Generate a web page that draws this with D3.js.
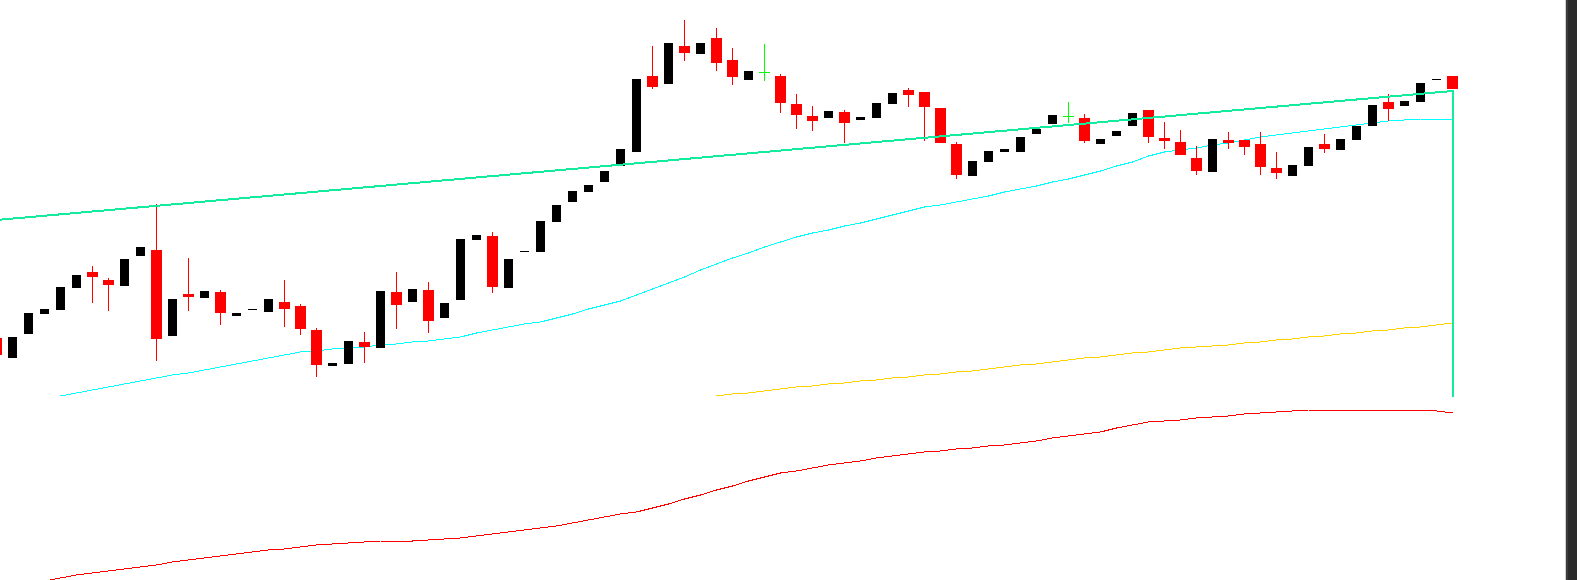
<!DOCTYPE html>
<html>
<head>
<meta charset="utf-8">
<script src="https://cdn.jsdelivr.net/npm/d3@7"></script>
<style>
  html, body { margin: 0; padding: 0; background: #fff; overflow: hidden; }
  #chart { width: 1577px; height: 580px; }
</style>
</head>
<body>
<div id="chart"></div>
<script>
// candle index (first one is cut by the left edge)
var firstIdx = -1;

// OHLC
var opens  = [12.62,12.42,12.66,12.86,12.90,13.12,13.28,13.20,13.14,13.44,13.50,12.64,13.06,13.02,13.08,12.84,12.90,12.88,12.98,12.94,
              12.70,12.34,12.36,12.58,12.52,13.08,12.98,13.10,12.82,13.00,13.60,13.64,13.12,13.48,13.48,13.78,13.98,14.08,14.18,14.34,
              14.48,15.24,15.16,15.54,15.46,15.62,15.40,15.20,15.28,15.24,14.96,14.84,14.82,14.88,14.80,14.82,14.96,15.10,15.08,14.92,
              14.56,14.24,14.38,14.48,14.48,14.66,14.76,14.84,14.82,14.56,14.64,14.74,14.90,14.62,14.58,14.42,14.28,14.60,14.60,14.56,
              14.32,14.24,14.34,14.56,14.50,14.60,14.74,14.98,14.94,14.98,15.20,15.24];
var highs  = [12.62,12.63,12.87,12.91,13.13,13.25,13.34,13.22,13.41,13.53,13.96,13.01,13.42,13.09,13.10,12.87,12.91,13.01,13.20,12.96,
              12.72,12.37,12.59,12.68,13.09,13.28,13.11,13.18,12.97,13.61,13.65,13.68,13.41,13.49,13.79,13.95,14.09,14.15,14.29,14.51,
              15.21,15.54,15.57,15.80,15.57,15.72,15.52,15.29,15.56,15.26,15.06,14.94,14.89,14.90,14.83,14.97,15.07,15.12,15.08,14.92,
              14.58,14.39,14.49,14.51,14.63,14.71,14.85,14.98,14.86,14.61,14.69,14.87,14.90,14.78,14.70,14.54,14.61,14.68,14.60,14.68,
              14.48,14.35,14.53,14.66,14.61,14.74,14.95,15.06,14.99,15.17,15.21,15.24];
var lows   = [12.45,12.42,12.66,12.86,12.90,13.12,12.97,12.89,13.14,13.44,12.39,12.64,12.89,13.02,12.75,12.84,12.90,12.88,12.73,12.65,
              12.23,12.34,12.36,12.37,12.52,12.71,12.98,12.67,12.82,13.00,13.60,13.07,13.12,13.48,13.48,13.78,13.98,14.08,14.18,14.34,
              14.48,15.11,15.16,15.39,15.46,15.29,15.15,15.20,15.19,14.87,14.71,14.69,14.82,14.57,14.80,14.82,14.96,14.93,14.59,14.57,
              14.21,14.24,14.38,14.48,14.48,14.66,14.76,14.77,14.57,14.56,14.64,14.74,14.57,14.51,14.45,14.25,14.28,14.51,14.45,14.25,
              14.21,14.24,14.34,14.47,14.50,14.60,14.74,14.79,14.94,14.98,15.20,15.11];
var closes = [12.45,12.63,12.87,12.91,13.13,13.25,13.23,13.15,13.41,13.53,12.61,13.01,13.03,13.09,12.87,12.87,12.91,13.01,12.91,12.71,
              12.35,12.37,12.59,12.53,13.09,12.95,13.11,12.79,12.97,13.61,13.65,13.13,13.41,13.49,13.79,13.95,14.09,14.15,14.29,14.51,
              15.21,15.13,15.57,15.47,15.57,15.37,15.23,15.29,15.28,14.97,14.85,14.79,14.89,14.77,14.83,14.97,15.07,15.05,14.93,14.57,
              14.25,14.39,14.49,14.51,14.63,14.71,14.85,14.84,14.59,14.61,14.69,14.87,14.63,14.59,14.45,14.29,14.61,14.57,14.53,14.33,
              14.27,14.35,14.53,14.51,14.61,14.74,14.95,14.91,14.99,15.17,15.21,15.11];

// moving averages, each with the index it starts at
var maCyanStart = 3;
var maCyan = [12.04,12.07,12.10,12.13,12.16,12.19,12.22,12.25,12.27,12.30,12.33,12.36,12.39,12.42,12.45,12.48,12.49,12.51,12.52,12.53,
              12.55,12.56,12.58,12.59,12.61,12.63,12.67,12.70,12.73,12.76,12.78,12.82,12.86,12.91,12.95,12.99,13.05,13.11,13.17,13.23,
              13.30,13.36,13.42,13.47,13.53,13.58,13.63,13.67,13.70,13.74,13.77,13.81,13.85,13.89,13.93,13.95,13.98,14.01,14.04,14.08,
              14.11,14.14,14.18,14.21,14.25,14.29,14.34,14.38,14.44,14.48,14.50,14.52,14.55,14.57,14.60,14.63,14.65,14.67,14.69,14.71,
              14.73,14.75,14.77,14.79,14.80,14.81,14.81,14.81];
var maYellowStart = 44;
var maYellow = [12.04,12.06,12.07,12.09,12.11,12.13,12.14,12.16,12.17,12.19,12.20,12.22,12.23,12.25,12.26,12.28,12.29,12.31,12.33,12.35,
                12.36,12.38,12.40,12.42,12.43,12.45,12.47,12.48,12.50,12.52,12.53,12.54,12.55,12.57,12.58,12.60,12.61,12.63,12.64,12.66,
                12.67,12.69,12.70,12.72,12.73,12.75,12.77];
var maRedStart = 2;
var maRed = [10.19,10.22,10.25,10.27,10.29,10.31,10.33,10.35,10.38,10.40,10.42,10.44,10.46,10.48,10.50,10.51,10.53,10.55,10.56,10.57,
             10.58,10.59,10.59,10.59,10.60,10.61,10.62,10.64,10.66,10.68,10.70,10.72,10.74,10.77,10.80,10.83,10.86,10.88,10.92,10.96,
             11.01,11.05,11.10,11.14,11.19,11.23,11.27,11.29,11.32,11.35,11.37,11.39,11.42,11.44,11.46,11.48,11.49,11.51,11.52,11.54,
             11.55,11.57,11.59,11.62,11.64,11.66,11.68,11.72,11.75,11.78,11.79,11.80,11.82,11.83,11.84,11.86,11.87,11.88,11.89,11.90,
             11.90,11.90,11.90,11.90,11.90,11.90,11.90,11.89,11.87];

// trend line: index/price pairs, then drop at the last bar
var trendIdx   = [-1, 90, 90];
var trendPrice = [13.80, 15.09, 12.03];

function buildCandles(){
    var arr = [];
    for(var i = 0; i < opens.length; i++){
        var o = opens[i], c = closes[i];
        arr.push({
            idx: firstIdx + i, o: o, h: highs[i], l: lows[i], c: c,
            kind: o === c ? 'doji' : (c > o ? 'up' : 'down')
        });
    }
    return arr;
}

function maToArr(vals, start){
    return vals.map((v, i) => { return { idx: start + i, v: v }; });
}

function main(){
    var width = 1577, height = 580;
    var plotRight = 1565;

    var x = d3.scaleLinear().domain([-1, 90]).range([-3.5, 1452.5]);
    var y = d3.scaleLinear().domain([10.2, 16]).range([height, 0]);

    var svg = d3.select('#chart').append('svg')
                .attr('width', width)
                .attr('height', height)
                .attr('shape-rendering', 'crispEdges');

    svg.append('rect').attr('width', width).attr('height', height).attr('fill', '#fff');

    svg.append('clipPath').attr('id', 'plot')
       .append('rect').attr('width', plotRight).attr('height', height);

    var g = svg.append('g').attr('clip-path', 'url(#plot)');

    // moving averages
    var line = d3.line()
                 .x((d) => { return x(d.idx); })
                 .y((d) => { return y(d.v); });

    g.append('path').datum(maToArr(maRed, maRedStart))
     .attr('d', line).attr('fill', 'none').attr('stroke', '#ff0000').attr('stroke-width', 1);
    g.append('path').datum(maToArr(maYellow, maYellowStart))
     .attr('d', line).attr('fill', 'none').attr('stroke', '#ffd200').attr('stroke-width', 1);
    g.append('path').datum(maToArr(maCyan, maCyanStart))
     .attr('d', line).attr('fill', 'none').attr('stroke', '#00ffff').attr('stroke-width', 1);

    var candles = buildCandles();

    // wicks (down bars and doji only, up bars show body only)
    g.selectAll('.wick')
     .data(candles.filter((d) => { return d.kind !== 'up'; }))
     .enter().append('rect')
       .attr('class', 'wick')
       .attr('x', (d) => { return Math.round(x(d.idx) - 0.5); })
       .attr('width', 1)
       .attr('y', (d) => { return Math.round(y(d.h)); })
       .attr('height', (d) => { return Math.max(1, Math.round(y(d.l)) - Math.round(y(d.h))); })
       .attr('fill', (d) => { return d.kind === 'doji' ? '#00ff00' : '#ff0000'; });

    // bodies
    g.selectAll('.body')
     .data(candles)
     .enter().append('rect')
       .attr('class', 'body')
       .attr('x', (d) => { return Math.round(x(d.idx) - (d.kind === 'up' ? 4.5 : 5.5)); })
       .attr('width', (d) => { return d.kind === 'up' ? 9 : 11; })
       .attr('y', (d) => { return Math.round(y(Math.max(d.o, d.c))); })
       .attr('height', (d) => { return Math.max(1, Math.round(y(Math.min(d.o, d.c))) - Math.round(y(Math.max(d.o, d.c)))); })
       .attr('fill', (d) => { return d.kind === 'up' ? '#000' : (d.kind === 'doji' ? '#00ff00' : '#ff0000'); });

    // trend line + drop
    var trend = trendIdx.map((k, i) => { return { idx: k, v: trendPrice[i] }; });
    g.append('path').datum(trend)
     .attr('d', line).attr('fill', 'none').attr('stroke', '#12ec9c').attr('stroke-width', 2);

    // right edge of the window
    svg.append('rect').attr('x', plotRight).attr('width', 1).attr('height', height).attr('fill', '#d0d0d0');
    svg.append('rect').attr('x', plotRight + 1).attr('width', 2).attr('height', height).attr('fill', '#3c3c3c');
    svg.append('rect').attr('x', plotRight + 3).attr('width', width - plotRight - 3).attr('height', height).attr('fill', '#2b2b2b');
}

main();
</script>
</body>
</html>
